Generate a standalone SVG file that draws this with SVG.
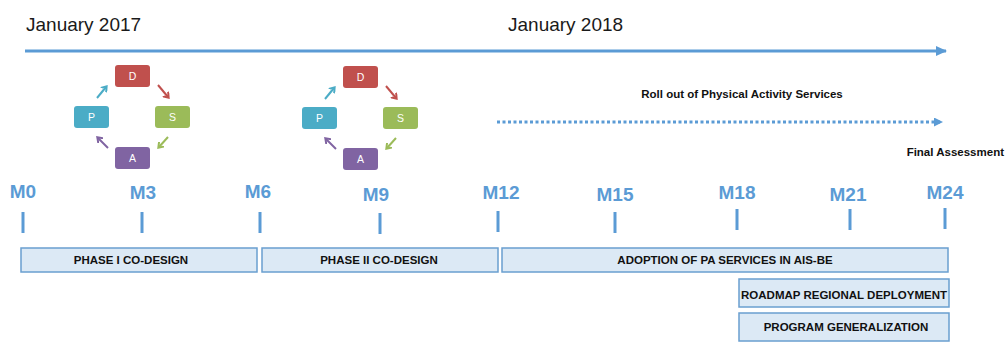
<svg xmlns="http://www.w3.org/2000/svg" width="1005" height="342" viewBox="0 0 1005 342">
<defs>
<style>
.title{font-family:"Liberation Sans",Arial,sans-serif;font-size:19px;fill:#1a1a1a}
.month{font-family:"Liberation Sans",Arial,sans-serif;font-size:19px;font-weight:bold;fill:#5b9bd5;text-anchor:middle}
.tick{stroke:#5b9bd5;stroke-width:3}
.bar{fill:#dce9f5;stroke:#6a9fcf;stroke-width:1.5}
.bartxt{font-family:"Liberation Sans",Arial,sans-serif;font-size:11.5px;font-weight:bold;fill:#111;text-anchor:middle}
.note{font-family:"Liberation Sans",Arial,sans-serif;font-size:11.5px;font-weight:bold;fill:#111}
.cyc{font-family:"Liberation Sans",Arial,sans-serif;font-size:10.5px;fill:#fff;text-anchor:middle}
.ca{stroke-width:2;fill:none}
</style>
<marker id="mainhead" markerWidth="12" markerHeight="12" refX="10" refY="5" orient="auto" markerUnits="userSpaceOnUse">
<path d="M0,0 L11,5 L0,10 Z" fill="#5b9bd5"/>
</marker>
<marker id="dothead" markerWidth="10" markerHeight="10" refX="8" refY="4.5" orient="auto" markerUnits="userSpaceOnUse">
<path d="M0,0 L9,4.5 L0,9 Z" fill="#5b9bd5"/>
</marker>
<marker id="hc" markerWidth="8" markerHeight="8" refX="4" refY="4" orient="auto" markerUnits="userSpaceOnUse"><path d="M0,0.5 L5,4 L0,7.5" fill="none" stroke="#4bacc6" stroke-width="2"/></marker>
<marker id="hr" markerWidth="8" markerHeight="8" refX="4" refY="4" orient="auto" markerUnits="userSpaceOnUse"><path d="M0,0.5 L5,4 L0,7.5" fill="none" stroke="#c0504d" stroke-width="2"/></marker>
<marker id="hg" markerWidth="8" markerHeight="8" refX="4" refY="4" orient="auto" markerUnits="userSpaceOnUse"><path d="M0,0.5 L5,4 L0,7.5" fill="none" stroke="#9bbb59" stroke-width="2"/></marker>
<marker id="hp" markerWidth="8" markerHeight="8" refX="4" refY="4" orient="auto" markerUnits="userSpaceOnUse"><path d="M0,0.5 L5,4 L0,7.5" fill="none" stroke="#8064a2" stroke-width="2"/></marker>
<g id="cycle">
<rect x="115" y="65" width="35" height="22" rx="3" fill="#c0504d"/>
<text class="cyc" x="132.5" y="80">D</text>
<rect x="74" y="106" width="35" height="22" rx="3" fill="#4bacc6"/>
<text class="cyc" x="91.5" y="121">P</text>
<rect x="155" y="106" width="35" height="22" rx="3" fill="#9bbb59"/>
<text class="cyc" x="172.5" y="121">S</text>
<rect x="115" y="147" width="35" height="22" rx="3" fill="#8064a2"/>
<text class="cyc" x="132.5" y="162">A</text>
<line class="ca" x1="97" y1="98" x2="106" y2="87" stroke="#4bacc6" marker-end="url(#hc)"/>
<line class="ca" x1="158" y1="85" x2="168" y2="97" stroke="#c0504d" marker-end="url(#hr)"/>
<line class="ca" x1="168" y1="137" x2="159" y2="147" stroke="#9bbb59" marker-end="url(#hg)"/>
<line class="ca" x1="108" y1="148" x2="98" y2="138" stroke="#8064a2" marker-end="url(#hp)"/>
</g>
</defs>

<g id="title-2017"><text class="title" x="26" y="31">January 2017</text></g>
<g id="title-2018"><text class="title" x="508" y="31">January 2018</text></g>

<g id="connectors">
<line x1="25" y1="51" x2="946" y2="51" stroke="#5b9bd5" stroke-width="3" marker-end="url(#mainhead)"/>
<line x1="497" y1="122" x2="942" y2="122" stroke="#5b9bd5" stroke-width="3" stroke-dasharray="3,2.5" marker-end="url(#dothead)"/>
</g>

<g id="pdsa-1"><use href="#cycle"/></g>
<g id="pdsa-2"><use href="#cycle" transform="translate(228,1)"/></g>

<g id="rollout"><text class="note" x="742" y="98" text-anchor="middle">Roll out of Physical Activity Services</text></g>
<g id="final"><text class="note" x="1004" y="156" text-anchor="end">Final Assessment</text></g>

<g id="months">
<text class="month" x="23" y="198">M0</text>
<text class="month" x="143" y="199">M3</text>
<text class="month" x="258" y="198">M6</text>
<text class="month" x="376" y="201">M9</text>
<text class="month" x="501" y="199">M12</text>
<text class="month" x="615" y="201">M15</text>
<text class="month" x="737" y="199">M18</text>
<text class="month" x="848" y="201">M21</text>
<text class="month" x="945" y="199">M24</text>
<line class="tick" x1="23" y1="212" x2="23" y2="233"/>
<line class="tick" x1="142" y1="212" x2="142" y2="233"/>
<line class="tick" x1="260" y1="212" x2="260" y2="233"/>
<line class="tick" x1="380" y1="213" x2="380" y2="234"/>
<line class="tick" x1="498" y1="211" x2="498" y2="232"/>
<line class="tick" x1="615" y1="212" x2="615" y2="233"/>
<line class="tick" x1="737" y1="209" x2="737" y2="230"/>
<line class="tick" x1="850" y1="209" x2="850" y2="230"/>
<line class="tick" x1="945" y1="208" x2="945" y2="229"/>
</g>

<g id="phase1"><rect class="bar" x="21" y="248" width="236" height="24"/><text class="bartxt" x="131" y="264">PHASE I CO-DESIGN</text></g>
<g id="phase2"><rect class="bar" x="262" y="248" width="236" height="24"/><text class="bartxt" x="379" y="264">PHASE II CO-DESIGN</text></g>
<g id="adoption"><rect class="bar" x="502" y="248" width="446" height="24"/><text class="bartxt" x="725" y="264">ADOPTION OF PA SERVICES IN AIS-BE</text></g>
<g id="roadmap"><rect class="bar" x="739" y="279" width="210" height="28"/><text class="bartxt" x="844" y="299">ROADMAP REGIONAL DEPLOYMENT</text></g>
<g id="program"><rect class="bar" x="739" y="313" width="210" height="28"/><text class="bartxt" x="846" y="331">PROGRAM GENERALIZATION</text></g>
</svg>
